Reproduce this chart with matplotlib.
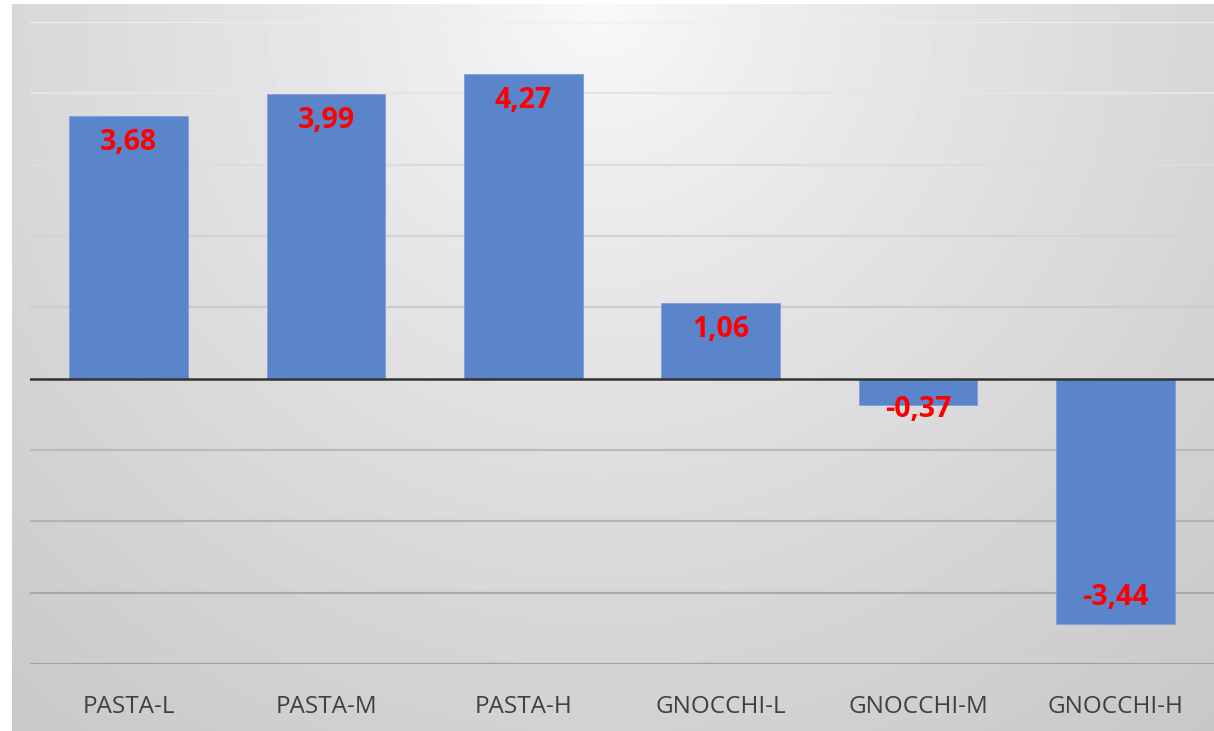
import numpy as np
import matplotlib.pyplot as plt

categories = ["PASTA-L", "PASTA-M", "PASTA-H", "GNOCCHI-L", "GNOCCHI-M", "GNOCCHI-H"]
values = [3.68, 3.99, 4.27, 1.06, -0.37, -3.44]
labels = ["3,68", "3,99", "4,27", "1,06", "-0,37", "-3,44"]

W, H = 1214, 731
fig = plt.figure(figsize=(W / 100, H / 100), dpi=100)

# grey radial background (white strip on left and top)
bg = fig.add_axes([12 / W, 0, 1 - 12 / W, 1 - 4 / H])
yy, xx = np.mgrid[0:H - 4, 12:W]
d = np.hypot(xx - 600, yy) / 940
shade = (250 - 50 * d ** 0.8) / 255
bg.imshow(shade, cmap="gray", vmin=0, vmax=1, aspect="auto", interpolation="bilinear")
bg.axis("off")

ax = fig.add_axes([30 / W, (H - 664) / H, (W - 30) / W, (664 - 22) / H])
ax.patch.set_alpha(0)
x = np.arange(len(categories))
ax.set_xlim(-0.5, len(categories) - 0.5)
ax.set_ylim(-4, 5)

# gridlines get darker towards the bottom
for g in range(-4, 6):
    if g == 0:
        continue
    t = (5 - g) / 9
    c = 0.93 - t * (0.93 - 0.63)
    ax.axhline(g, color=(c, c, c), lw=1.6, zorder=1)

ax.bar(x, values, width=0.6, color="#5b85cb", edgecolor="#7f9fd6", linewidth=0.6, zorder=2)
ax.axhline(0, color="#333333", lw=1.8, zorder=3)

for xi, v, lab in zip(x, values, labels):
    if abs(v) > 0.6:
        y = v - np.sign(v) * 0.37
    else:
        y = v - 0.06
    ax.text(xi, y, lab, ha="center", va="center", color="#ff0000",
            fontsize=20.5, fontweight="bold", family="Open Sans", zorder=4)

ax.set_xticks(x)
ax.set_xticklabels(categories, fontsize=17.5, color="#404040", family="Open Sans")
ax.tick_params(axis="x", length=0, pad=22)
ax.set_yticks([])
for s in ax.spines.values():
    s.set_visible(False)

fig.savefig("out.png", dpi=100)
